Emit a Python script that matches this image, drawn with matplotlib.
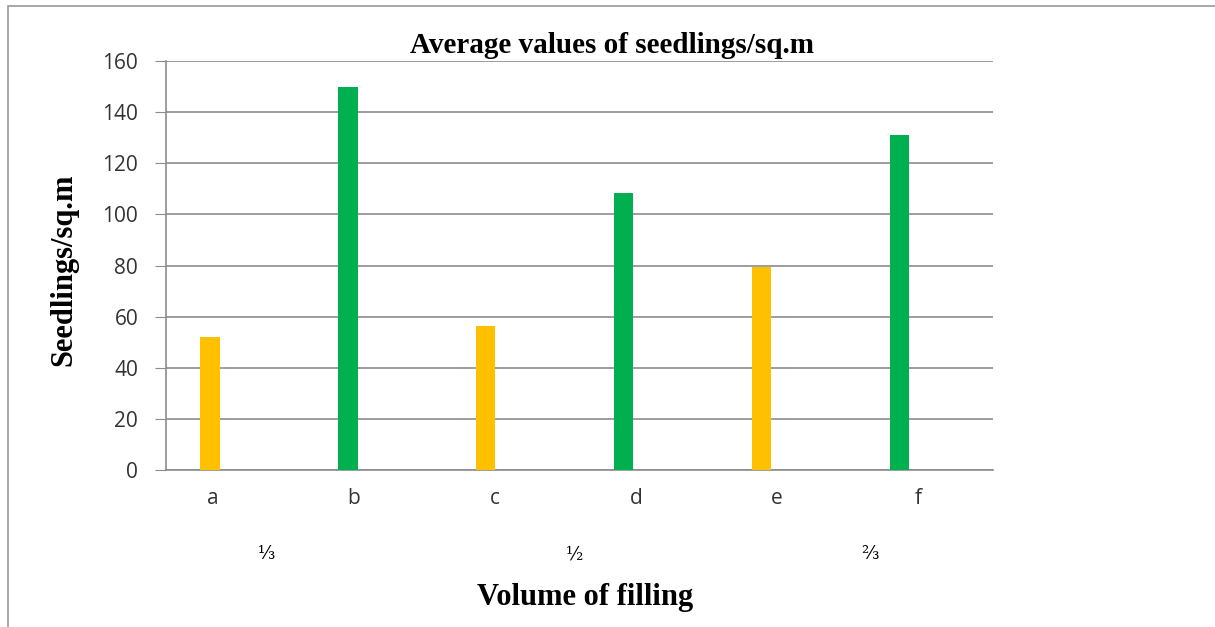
import matplotlib
matplotlib.use("Agg")
import matplotlib.pyplot as plt
from matplotlib.patches import Rectangle

# seedlings per square metre for each treatment
categories = ["a", "b", "c", "d", "e", "f"]
seedlings = [52, 150, 56.5, 108.5, 79.5, 131]
bar_colors = ["#FFC000", "#00B050", "#FFC000", "#00B050", "#FFC000", "#00B050"]

# filling volume groups shown under the category labels
fill_labels = ["\u2153", "\u00BD", "\u2154"]
fill_pos = [0.41, 2.64, 4.79]

yticks = [0, 20, 40, 60, 80, 100, 120, 140, 160]

W, H = 1215, 627
fig = plt.figure(figsize=(W / 100, H / 100), dpi=100)

# outer chart frame
fig.patches.append(Rectangle((8 / W, -0.1), 1.2, 1 - 6 / H + 0.1, transform=fig.transFigure,
                             fill=False, edgecolor="#9a9a9a", linewidth=1.2))

ax = fig.add_axes([166 / W, (H - 470) / H, 827 / W, 409 / H])
x = list(range(len(categories)))
ax.bar(x, seedlings, width=0.14, color=bar_colors, zorder=3)

ax.set_xlim(-0.32, 5.68)
ax.set_ylim(0, 160)
ax.set_yticks(yticks)
# category labels sit on a slightly wider spacing than the bars
ax.set_xticks([0.02 + i * 1.023 for i in x])
ax.set_xticklabels(categories)
ax.grid(axis="y", color="#8c8c8c", linewidth=1.2, zorder=0)

for s in ["top", "right"]:
    ax.spines[s].set_visible(False)
for s in ["left", "bottom"]:
    ax.spines[s].set_color("#8c8c8c")
    ax.spines[s].set_linewidth(1.2)
ax.tick_params(axis="y", length=8, color="#8c8c8c", labelsize=15, labelcolor="#333333", pad=12)
ax.tick_params(axis="x", length=0, labelsize=15, labelcolor="#333333", pad=13)
for lab in ax.get_xticklabels() + ax.get_yticklabels():
    lab.set_family("Open Sans")

serif = "Liberation Serif"
ax.set_title("Average values of seedlings/sq.m", fontsize=21, fontweight="bold",
             family=serif, pad=6, x=0.539)
ax.set_ylabel("Seedlings/sq.m", fontsize=22, fontweight="bold", family=serif)
ax.yaxis.label.set_verticalalignment("center")
ax.yaxis.set_label_coords(-0.124, 0.49)

for lab, px in zip(fill_labels, fill_pos):
    ax.text(px, -33, lab, ha="center", va="center", fontsize=13, family="DejaVu Serif")

fig.text(585 / W, 1 - 598 / H, "Volume of filling", ha="center", va="center",
         fontsize=22, fontweight="bold", family=serif)

fig.savefig("out.png", dpi=100)
